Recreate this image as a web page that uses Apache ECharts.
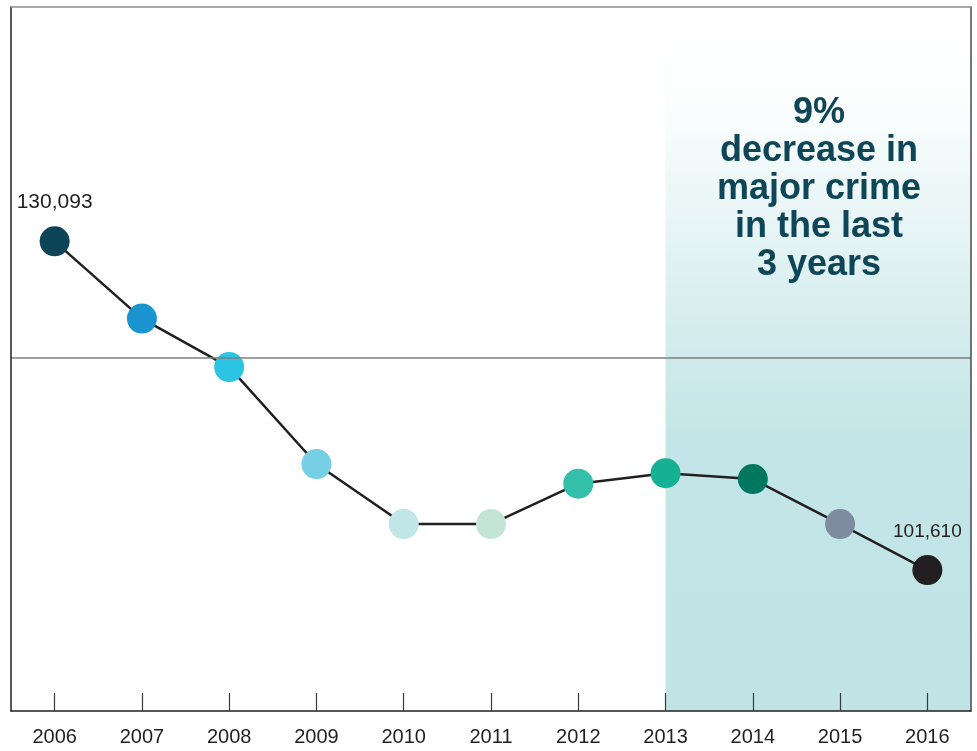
<!DOCTYPE html>
<html>
<head>
<meta charset="utf-8">
<script src="https://cdn.jsdelivr.net/npm/echarts@6/dist/echarts.min.js"></script>
<style>
  html, body { margin: 0; padding: 0; background: #ffffff; }
  #chart { width: 977px; height: 751px; }
</style>
</head>
<body>
<div id="chart"></div>
<script>
// Major crime counts by year
const years = ['2006', '2007', '2008', '2009', '2010', '2011', '2012', '2013', '2014', '2015', '2016'];
const crimes = [130093, 123400, 119200, 110800, 105600, 105600, 109100, 110000, 109500, 105600, 101610];
const dotColors = ['#0d4457', '#1a95d0', '#2bc4e3', '#76cfe5', '#c0e6e8', '#c4e4d6',
                   '#33bfa9', '#14b195', '#02775f', '#7f8c9f', '#231f20'];
const referenceLevel = 120000;
const highlightFrom = 7;       // index of 2013: start of the "last 3 years" band
const labelledPoints = [0, 10]; // first and last year carry value labels
const labelSizes = { 0: 21, 10: 19 };
const calloutLines = ['9%', 'decrease in', 'major crime', 'in the last', '3 years'];

const FONT = "'Liberation Sans', Arial, Helvetica, sans-serif";
const INK = '#231f20';

const chart = echarts.init(document.getElementById('chart'), null, { renderer: 'canvas' });

const points = crimes.map((v, i) => {
  const item = { value: v, itemStyle: { color: dotColors[i] } };
  if (labelledPoints.includes(i)) {
    item.label = {
      show: true,
      position: 'top',
      distance: 14,
      color: INK,
      fontFamily: FONT,
      fontSize: labelSizes[i],
      formatter: p => p.value.toLocaleString('en-US')
    };
  }
  return item;
});

chart.setOption({
  animation: false,
  backgroundColor: '#ffffff',
  grid: { left: 11, right: 6, top: 7, bottom: 40 },
  xAxis: [
    {
      type: 'category',
      data: years,
      boundaryGap: true,
      z: 5,
      axisLine: { show: true, lineStyle: { color: INK, width: 1.5 } },
      axisTick: { show: true, inside: true, length: 18, alignWithLabel: true,
                  lineStyle: { color: '#3a3a3a', width: 1.2 } },
      axisLabel: { color: INK, fontFamily: FONT, fontSize: 20, margin: 16 },
      splitLine: { show: false }
    },
    {
      // numeric twin of the category axis, used for the shaded band; draws the top frame edge
      type: 'value',
      position: 'top',
      min: -0.5,
      max: 10.5,
      z: 5,
      axisLine: { show: true, onZero: false, lineStyle: { color: '#8c8c8c', width: 1.5 } },
      axisTick: { show: false },
      axisLabel: { show: false },
      splitLine: { show: false }
    }
  ],
  yAxis: [
    {
      type: 'value',
      min: 89400,
      max: 150400,
      z: 5,
      axisLine: { show: true, onZero: false, lineStyle: { color: INK, width: 1.5 } },
      axisTick: { show: false },
      axisLabel: { show: false },
      splitLine: { show: false }
    },
    {
      type: 'value',
      position: 'right',
      min: 89400,
      max: 150400,
      z: 5,
      axisLine: { show: true, onZero: false, lineStyle: { color: '#4a4a4a', width: 1.5 } },
      axisTick: { show: false },
      axisLabel: { show: false },
      splitLine: { show: false }
    }
  ],
  series: [
    {
      // shaded band over the last three years
      type: 'line',
      xAxisIndex: 1,
      yAxisIndex: 0,
      data: [[highlightFrom, referenceLevel]],
      symbol: 'none',
      lineStyle: { opacity: 0 },
      silent: true,
      z: 1,
      markArea: {
        silent: true,
        itemStyle: {
          color: {
            type: 'linear', x: 0, y: 0, x2: 0, y2: 1,
            colorStops: [
              { offset: 0.0, color: '#ffffff' },
              { offset: 0.13, color: '#fcfefe' },
              { offset: 0.32, color: '#e6f4f5' },
              { offset: 0.50, color: '#d0eaeb' },
              { offset: 0.62, color: '#c3e5e7' },
              { offset: 1.0, color: '#c0e4e6' }
            ]
          }
        },
        data: [[{ xAxis: highlightFrom }, { xAxis: 10.5 }]]
      }
    },
    {
      type: 'line',
      data: points,
      symbol: 'circle',
      symbolSize: 30,
      lineStyle: { color: INK, width: 2.5 },
      label: { show: false },
      z: 3,
      markLine: {
        silent: true,
        symbol: 'none',
        label: { show: false },
        lineStyle: { color: '#7f7f7f', width: 1.5, type: 'solid' },
        data: [{ yAxis: referenceLevel }]
      }
    }
  ],
  graphic: [
    {
      type: 'text',
      x: 819,
      y: 189,
      z: 10,
      style: {
        text: calloutLines.join('\n'),
        font: "bold 36px " + FONT,
        fill: '#0f4657',
        align: 'center',
        verticalAlign: 'middle',
        textAlign: 'center',
        textVerticalAlign: 'middle',
        lineHeight: 38
      }
    }
  ]
});
</script>
</body>
</html>
